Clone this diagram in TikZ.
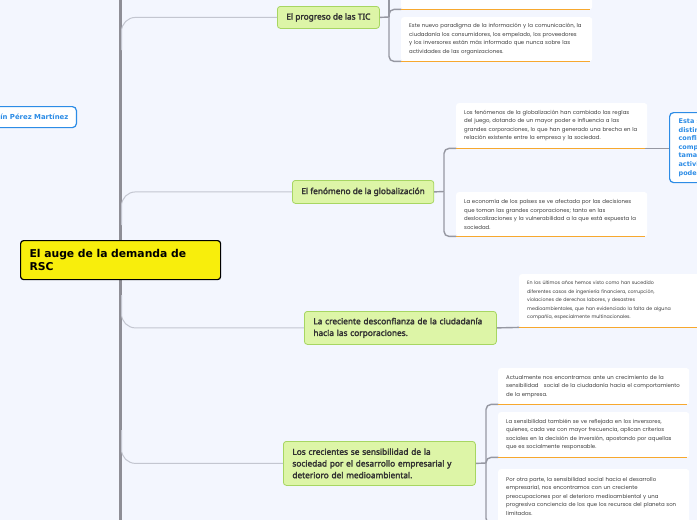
\documentclass[tikz,border=0pt]{standalone}
\usepackage{fontspec}
\newfontfamily\nodefont{Noto Sans}[FakeBold=2.6]
\newfontfamily\leaffont{Poppins}
\newfontfamily\rootfont{DejaVu Sans}
\definecolor{bgc}{RGB}{243,246,254}
\definecolor{greenfill}{RGB}{221,245,167}
\definecolor{greenborder}{RGB}{167,214,98}
\definecolor{darktext}{RGB}{51,51,51}
\definecolor{leaftext}{RGB}{62,62,62}
\definecolor{orangec}{RGB}{247,168,46}
\definecolor{bluec}{RGB}{44,140,230}
\definecolor{mainc}{RGB}{142,142,150}
\definecolor{thinc}{RGB}{195,198,208}
\definecolor{subc}{RGB}{150,152,162}
\definecolor{yellowc}{RGB}{248,238,12}
\tikzset{
  greennode/.style={draw=greenborder, fill=greenfill, rounded corners=3pt, line width=0.8pt,
    font=\nodefont\fontsize{8.3}{11.7}\selectfont, text=darktext,
    inner xsep=9pt, inner ysep=0pt, anchor=north west},
  leaf/.style={fill=white, rounded corners=2.5pt, anchor=north west, inner xsep=8pt, inner ysep=0pt,
    align=left, text width=175pt, font=\leaffont\fontsize{5.4}{8.5}\selectfont, text=leaftext},
  rootnode/.style={draw=black, line width=1.2pt, fill=yellowc, rounded corners=3pt,
    font=\rootfont\bfseries\fontsize{10.8}{12.5}\selectfont, inner xsep=9pt, inner ysep=0pt,
    text width=182pt, align=left, minimum height=39pt, anchor=north west},
  bluenode/.style={draw=bluec, line width=1.2pt, fill=white, rounded corners=4pt, text=bluec,
    font=\rootfont\bfseries\fontsize{6.5}{8.6}\selectfont, align=left, inner xsep=9pt, inner ysep=0pt},
  mainline/.style={draw=mainc, line width=2.5pt},
  thinline/.style={draw=thinc, line width=1pt, rounded corners=14pt},
  subline/.style={draw=subc, line width=1.4pt, rounded corners=5pt},
  orangeline/.style={draw=orangec, line width=1.5pt},
}
\begin{document}
\begin{tikzpicture}[x=1pt,y=-1pt]
\useasboundingbox (0,0) rectangle (697,520);
\clip (0,0) rectangle (697,520);
\fill[bgc] (0,0) rectangle (697,520);

% main vertical line
\coordinate (mtop) at (120.5,0);
\coordinate (mbot) at (120.5,520);
\draw[mainline] (mtop) -- (mbot);

% green nodes
\node[greennode, minimum width=102pt, minimum height=22pt, align=center] (tic) at (277,6) {El progreso de las TIC};
\node[greennode, minimum width=141pt, minimum height=23pt, align=center] (glob) at (292,180) {El fenómeno de la globalización};
\node[greennode, text width=174pt, minimum height=33pt, align=left] (desc) at (304,311) {La creciente desconfianza de la ciudadanía\\hacia las corporaciones.};
\node[greennode, text width=174pt, minimum height=44pt, align=left] (crec) at (283,441) {Los crecientes se sensibilidad de la\\sociedad por el desarrollo empresarial y\\deterioro del medioambiental.};

% thin branches from main line
\coordinate (b1) at (121.5,50);
\coordinate (b2) at (121.5,225);
\coordinate (b3) at (121.5,295);
\coordinate (b4) at (121.5,430);
\draw[thinline] (b1) |- (tic.west);
\draw[thinline] (b2) |- (glob.west);
\draw[thinline] (b3) |- (desc.west);
\draw[thinline] (b4) |- (crec.west);

% root
\node[rootnode] (root) at (20,240) {El auge de la demanda de\\RSC};

% left blue node
\node[bluenode, anchor=north east, minimum height=21pt, font=\rootfont\bfseries\fontsize{6.9}{8}\selectfont, inner xsep=8pt] (author) at (77,106) {ín Pérez Martínez};

% TIC leaves
\node[leaf, minimum height=49pt] (tA) at (401,-40) {};
\node[leaf, minimum height=44pt] (tB) at (401,17) {Este nuevo paradigma de la información y la comunicación, la\\ciudadanía los consumidores, los empelado, los proveedores\\y los inversores están más informado que nunca sobre las\\actividades de las organizaciones.};
\coordinate (tconn) at (389,17);
\coordinate (tup) at (389,-30);
\draw[subline] (tic.east) -- (tconn);
\draw[subline] (tconn) -- (tup);
\draw[subline] (tconn) |- (tA.south west);
\draw[subline] (tconn) |- (tB.south west);
\draw[orangeline] (tA.south west) -- ([xshift=-2pt]tA.south east);
\draw[orangeline] (tB.south west) -- ([xshift=-2pt]tB.south east);

% globalization leaves
\node[leaf, minimum height=45pt] (g1) at (456,103) {Los fenómenos de la globalización han cambiado las reglas\\del juego, dotando de un mayor poder e influencia a las\\grandes corporaciones, lo que han generado una brecha en la\\relación existente entre la empresa y la sociedad.};
\node[leaf, minimum height=44pt] (g2) at (456,192) {La economía de los países se ve afectada por las decisiones\\que toman las grandes corporaciones; tanto en las\\deslocalizaciones y la vulnerabilidad a la que está expuesta la\\sociedad.};
\coordinate (gconn) at (444,191.5);
\draw[subline] (glob.east) -- (gconn);
\draw[subline] (gconn) |- (g1.south west);
\draw[subline] (gconn) |- (g2.south west);
\draw[orangeline] (g1.south west) -- ([xshift=-2pt]g1.south east);
\draw[orangeline] (g2.south west) -- ([xshift=-2pt]g2.south east);

% blue node right
\node[bluenode, anchor=north west, minimum height=70pt, text width=50pt] (bl) at (669,112) {Esta s\\distin\\confli\\comp\\tama\\activi\\pode};
\draw[subline] ([xshift=-2pt]g1.south east) -- (bl.west |- g1.south east);

% desconfianza leaf
\node[leaf, minimum height=53pt, font=\leaffont\fontsize{4.75}{8.5}\selectfont] (d1) at (519,274) {En los últimos años hemos visto como han sucedido\\diferentes casos de ingeniería financiera, corrupción,\\violaciones de derechos labores, y desastres\\medioambientales, que han evidenciado la falta de alguna\\compañía, especialmente multinacionales.};
\draw[subline] (desc.east) -- (d1.south west);
\draw[orangeline] (d1.south west) -- (d1.south east);

% crecientes leaves
\node[leaf, minimum height=36pt] (c1) at (498,368) {Actualmente nos encontramos ante un crecimiento de la\\sensibilidad \ \ social de la ciudadanía hacia el comportamiento\\de la empresa.};
\node[leaf, minimum height=45pt] (c2) at (498,412) {La sensibilidad también se ve reflejada en los inversores,\\quienes, cada vez con mayor frecuencia, aplican criterios\\sociales en la decisión de inversión, apostando por aquellas\\que es socialmente responsable.};
\node[leaf, minimum height=54pt] (c3) at (498,469) {Por otra parte, la sensibilidad social hacia el desarrollo\\empresarial, nos encontramos con un creciente\\preocupaciones por el deterioro medioambiental y una\\progresiva conciencia de los que los recursos del planeta son\\limitados.};
\coordinate (cconn) at (486,463);
\draw[subline] (crec.east) -- (cconn);
\draw[subline] (cconn) |- (c1.south west);
\draw[subline] (cconn) |- (c2.south west);
\draw[subline] (cconn) |- (c3.south west);
\draw[orangeline] (c1.south west) -- ([xshift=-2pt]c1.south east);
\draw[orangeline] (c2.south west) -- ([xshift=-2pt]c2.south east);
\draw[orangeline] (c3.south west) -- ([xshift=-2pt]c3.south east);
\end{tikzpicture}
\end{document}
